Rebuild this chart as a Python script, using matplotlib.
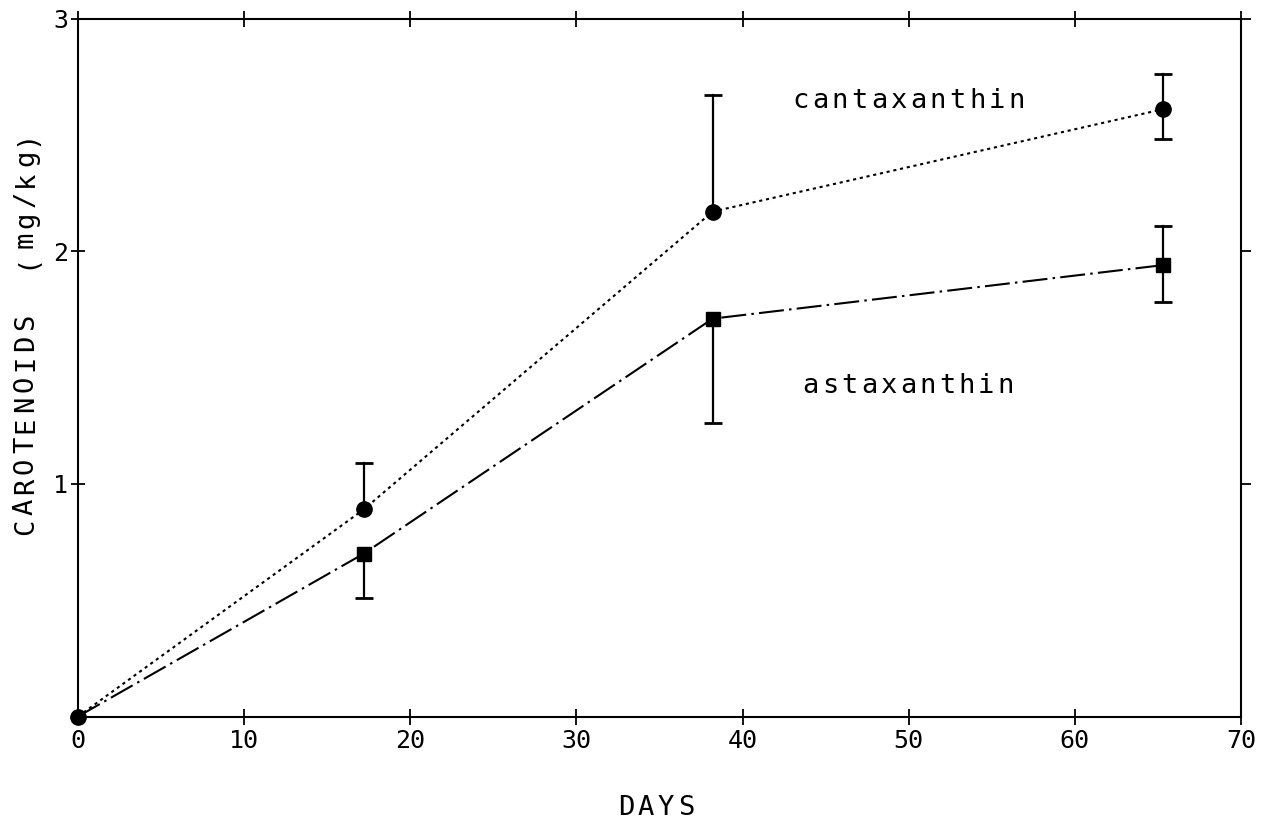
import numpy as np
import matplotlib
matplotlib.use('Agg')
import matplotlib.pyplot as plt
import matplotlib.transforms as mtransforms

# values
days = [0, 17.2, 38.2, 65.3]
canta = [0, 0.89, 2.17, 2.61]
asta = [0, 0.70, 1.71, 1.94]
# error bar ends (nan = no bar on that side)
canta_hi = [np.nan, 1.09, 2.67, 2.76]
canta_lo = [np.nan, np.nan, np.nan, 2.48]
asta_hi = [np.nan, np.nan, np.nan, 2.11]
asta_lo = [np.nan, 0.51, 1.26, 1.78]

xticks = [0, 10, 20, 30, 40, 50, 60, 70]
yticks = [1, 2, 3]

FONT = 'DejaVu Sans Mono'

fig = plt.figure(figsize=(12.71, 8.23), dpi=100)
ax = fig.add_axes([78 / 1271, 106.5 / 823, 1163 / 1271, 698 / 823])


def spaced(s, x, y, pitch, transform, rot=0, size=19.5):
    # plotter style lettering: each character at a fixed pitch (pixels), on a common baseline
    for i, ch in enumerate(s):
        if rot == 0:
            tr = mtransforms.offset_copy(transform, fig=fig, x=i * pitch, y=0, units='dots')
        else:
            tr = mtransforms.offset_copy(transform, fig=fig, x=0, y=i * pitch, units='dots')
        ax.text(x, y, ch, transform=tr, ha='center', va='baseline', rotation=rot,
                rotation_mode='anchor', fontsize=size, family=FONT, clip_on=False)


def error_bars(vals, hi, lo):
    for x, v, h, l in zip(days, vals, hi, lo):
        top = v if np.isnan(h) else h
        bot = v if np.isnan(l) else l
        if top != bot:
            ax.plot([x, x], [bot, top], color='black', lw=1.6, zorder=2)
        for end in (h, l):
            if not np.isnan(end):
                ax.plot(x, end, marker='_', markersize=13, mew=2, color='black', zorder=2)


# origin point only shows the circle, so skip the square there
ax.plot(days, asta, color='black', lw=1.5, dashes=(12, 2.5, 1.2, 2.5),
        marker='s', markersize=10, markevery=[1, 2, 3], zorder=3, clip_on=False)
ax.plot(days, canta, color='black', lw=1.5, dashes=(1.5, 1.8),
        marker='o', markersize=11, zorder=4, clip_on=False)
error_bars(canta, canta_hi, canta_lo)
error_bars(asta, asta_hi, asta_lo)

ax.set_xlim(0, 70)
ax.set_ylim(0, 3)
ax.set_xticks(xticks)
ax.set_yticks(yticks)
for sp in ax.spines.values():
    sp.set_linewidth(1.5)

ax.tick_params(axis='x', which='both', direction='inout', length=12, width=1.3,
               top=True, labelsize=18, pad=3)
ax.tick_params(axis='y', which='both', direction='inout', length=10, width=1.3,
               labelsize=18, pad=2)
for lab in ax.get_xticklabels() + ax.get_yticklabels():
    lab.set_family(FONT)

# right side ticks point outward only
ax2 = ax.twinx()
ax2.set_ylim(0, 3)
ax2.set_yticks(yticks)
ax2.tick_params(axis='y', direction='out', length=7, width=1.3, labelright=False)
for sp in ax2.spines.values():
    sp.set_visible(False)

spaced('cantaxanthin', 43.5, 2.615, 19.6, ax.transData)
spaced('astaxanthin', 44.1, 1.390, 19.5, ax.transData)
spaced('DAYS', 0.4712, -0.1411, 20, ax.transAxes)
spaced('CAROTENOIDS  (mg/kg)', -0.0387, 0.2715, 20.5, ax.transAxes, rot=90)

fig.savefig('out.png', dpi=100)
